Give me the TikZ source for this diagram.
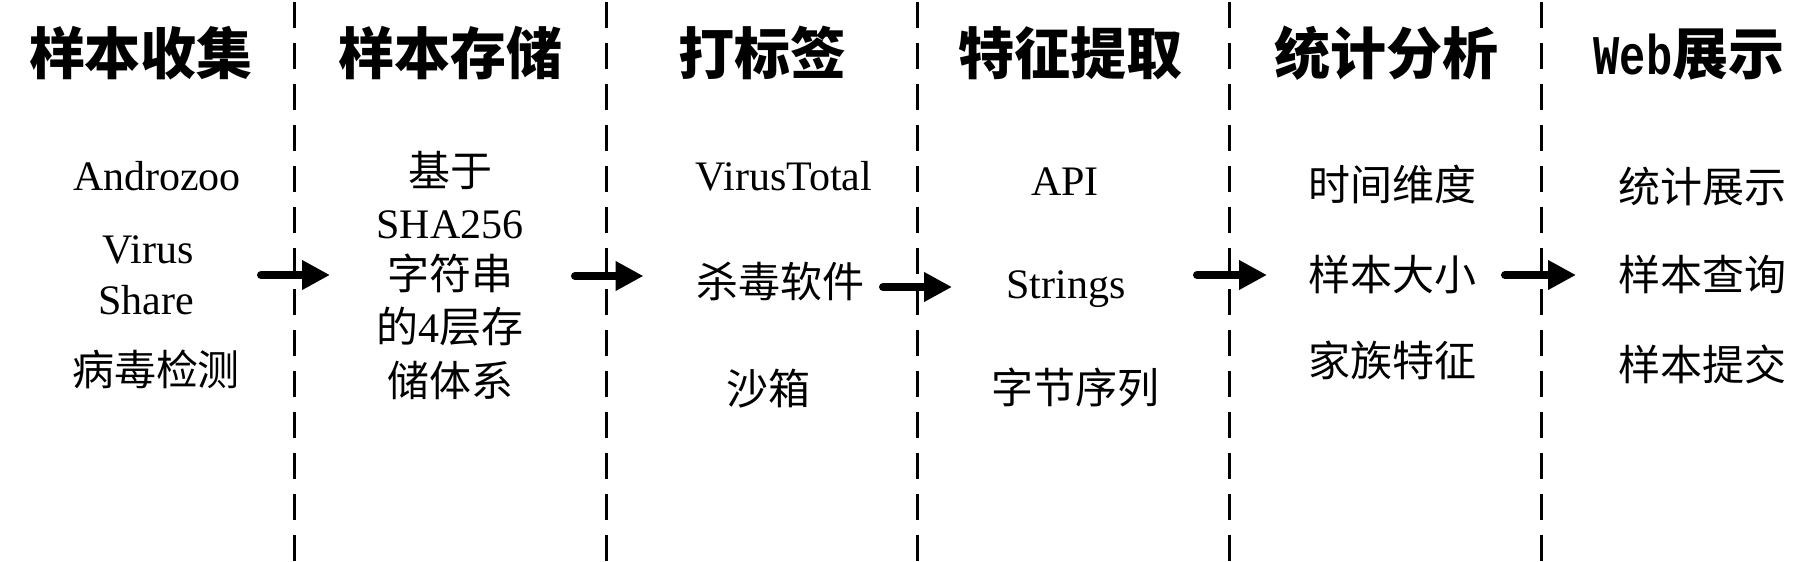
\documentclass[tikz,border=0pt]{standalone}
\usepackage{fontspec}
\setmainfont{Liberation Serif}
\newfontfamily\cjk{Noto Sans CJK SC}
\newfontfamily\webfont{Liberation Mono}[FakeStretch=0.78]
\usetikzlibrary{arrows.meta}
\begin{document}
\begin{tikzpicture}[x=0.5pt,y=-0.5pt,
  title/.style={anchor=base,inner sep=0pt,font=\cjk\bfseries\fontsize{28}{30}\selectfont},
  body/.style={anchor=base,inner sep=0pt,font=\fontsize{21}{24}\selectfont},
  cbody/.style={body,font=\cjk\fontsize{21}{24}\selectfont},
  sepline/.style={line width=1.5pt,dash pattern=on 13pt off 7.5pt},
  flow/.style={line width=4pt,line cap=round,-{Triangle[length=14pt,width=14pt]}}]
\useasboundingbox (0,0) rectangle (1817,562);
\fill[white] (0,0) rectangle (1817,562);
% separators
\foreach \x in {294.5,606,917.5,1229,1541}
  \draw[sepline] (\x,2) -- (\x,562);
% titles
\node[title] (t1) at (141,75) {样本收集};
\node[title] (t2) at (450,75) {样本存储};
\node[title] (t3) at (762,75) {打标签};
\node[title] (t4) at (1070,75) {特征提取};
\node[title] (t5) at (1386,75) {统计分析};
\node[title] (t6) at (1689,75) {{\webfont\bfseries Web}展示};
% column 1
\node[body] (c1a) at (157,190) {Androzoo};
\node[body] (c1b) at (148,263) {Virus};
\node[body] (c1c) at (146,314) {Share};
\node[cbody] (c1d) at (156,385) {病毒检测};
% column 2
\node[cbody] (c2a) at (450,186) {基于};
\node[body] (c2b) at (450,238) {SHA256};
\node[cbody] (c2c) at (450,289) {字符串};
\node[body] (c2d) at (450,342) {{\cjk 的}4{\cjk 层存}};
\node[cbody] (c2e) at (450,396) {储体系};
% column 3
\node[body] (c3a) at (784,190) {VirusTotal};
\node[cbody] (c3b) at (780,297) {杀毒软件};
\node[cbody] (c3c) at (768,404) {沙箱};
% column 4
\node[body] (c4a) at (1065,195) {API};
\node[body] (c4b) at (1066,298) {Strings};
\node[cbody] (c4c) at (1075,403) {字节序列};
% column 5
\node[cbody] (c5a) at (1392,200) {时间维度};
\node[cbody] (c5b) at (1392,290) {样本大小};
\node[cbody] (c5c) at (1392,376) {家族特征};
% column 6
\node[cbody] (c6a) at (1702,202) {统计展示};
\node[cbody] (c6b) at (1702,290) {样本查询};
\node[cbody] (c6c) at (1702,380) {样本提交};
% arrows
\coordinate (a1s) at (261,275);  \coordinate (a1e) at (330,275);
\coordinate (a2s) at (575,276);  \coordinate (a2e) at (643.5,276);
\coordinate (a3s) at (883,287);  \coordinate (a3e) at (952,287);
\coordinate (a4s) at (1197,275); \coordinate (a4e) at (1267,275);
\coordinate (a5s) at (1505,275); \coordinate (a5e) at (1576,275);
\draw[flow] (a1s) -- (a1e);
\draw[flow] (a2s) -- (a2e);
\draw[flow] (a3s) -- (a3e);
\draw[flow] (a4s) -- (a4e);
\draw[flow] (a5s) -- (a5e);
\end{tikzpicture}
\end{document}
